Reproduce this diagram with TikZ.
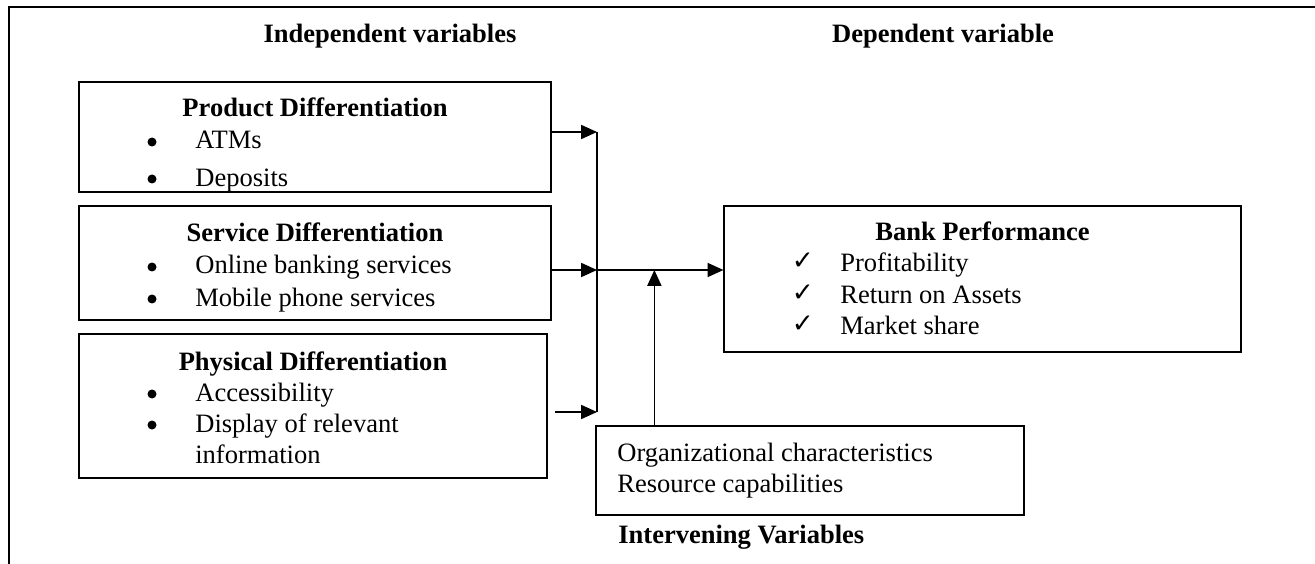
\documentclass[tikz,border=0pt]{standalone}
\usepackage{fontspec}
\setmainfont{Liberation Serif}
\newfontfamily\tickfont{DejaVu Sans}
\usetikzlibrary{arrows.meta}

\begin{document}
\begin{tikzpicture}[x=0.02cm,y=-0.02cm,
  font=\fontsize{15.1pt}{17.5pt}\selectfont,
  box/.style={draw,line width=0.75pt,inner sep=0pt},
  head/.style={font=\fontsize{15.1pt}{17.5pt}\selectfont\bfseries,anchor=base,inner sep=0pt},
  item/.style={anchor=base west,inner sep=0pt},
  bulletdot/.style={circle,fill,inner sep=0pt,minimum size=0.18cm},
  tick/.style={anchor=base,inner sep=0pt,font=\fontsize{15pt}{17pt}\tickfont},
  arr/.style={line width=0.75pt,-{Triangle[length=9pt,width=8pt]}}]

  \useasboundingbox (0,0) rectangle (1315,564);

  % frame round the figure
  \draw[line width=1.2pt] (9,564) -- (9,7) -- (1315,7);

  \node[head] (indep) at (390,43) {Independent variables};
  \node[head] (dep) at (943,43) {Dependent variable};

  % independent variables
  \node[box,minimum width=9.44cm,minimum height=2.2cm] (prod) at (315,137) {};
  \node[head] (prodh) at (315,117) {Product Differentiation};
  \node[bulletdot] (p1) at (152,142) {};
  \node[item] (p1t) at (195,149) {ATMs};
  \node[bulletdot] (p2) at (152,179) {};
  \begin{scope}
    \clip (prod.south west) rectangle (prod.north east);
    \node[item] (p2t) at (195,187) {Deposits};
  \end{scope}

  \node[box,minimum width=9.44cm,minimum height=2.28cm] (serv) at (315,263) {};
  \node[head] (servh) at (315,242) {Service Differentiation};
  \node[bulletdot] (s1) at (152,267) {};
  \node[item] (s1t) at (195,274) {Online banking services};
  \node[bulletdot] (s2) at (152,299) {};
  \node[item] (s2t) at (195,306) {Mobile phone services};

  \node[box,minimum width=9.36cm,minimum height=2.88cm] (phys) at (313,406) {};
  \node[head] (physh) at (313,370) {Physical Differentiation};
  \node[bulletdot] (h1) at (152,394) {};
  \node[item] (h1t) at (195,401) {Accessibility};
  \node[bulletdot] (h2) at (152,425) {};
  \node[item] (h2t) at (195,432) {Display of relevant};
  \node[item] (h3t) at (195,463) {information};

  % dependent variable
  \node[box,minimum width=10.34cm,minimum height=2.92cm] (perf) at (982.5,279) {};
  \node[head] (perfh) at (982.5,241) {Bank Performance};
  \node[tick] (c1) at (803,270) {✓};
  \node[item] (c1t) at (840,272) {Profitability};
  \node[tick] (c2) at (803,301) {✓};
  \node[item] (c2t) at (840,303) {Return on Assets};
  \node[tick] (c3) at (803,332) {✓};
  \node[item] (c3t) at (840,334) {Market share};

  % intervening variables
  \node[box,minimum width=8.56cm,minimum height=1.78cm] (inter) at (810,470.5) {};
  \node[item] (i1) at (617,461) {Organizational characteristics};
  \node[item] (i2) at (617,492) {Resource capabilities};
  \node[head,anchor=base west] (interh) at (618,543) {Intervening Variables};

  % connectors
  \coordinate (jtop) at (597,132);
  \coordinate (jmid) at (597,270);
  \coordinate (jbot) at (597,412);
  \coordinate (physout) at (555,412);
  \draw[line width=0.75pt] (jtop) -- (jbot);
  \draw[arr] (prod.east |- jtop) -- (jtop);
  \draw[arr] (serv.east |- jmid) -- (jmid);
  \draw[arr] (physout) -- (jbot);
  \draw[arr] (jmid) -- (perf.west |- jmid);
  \draw[arr] ([xshift=1.18cm]inter.north west) -- ([xshift=1.18cm]inter.north west |- jmid);
\end{tikzpicture}
\end{document}
